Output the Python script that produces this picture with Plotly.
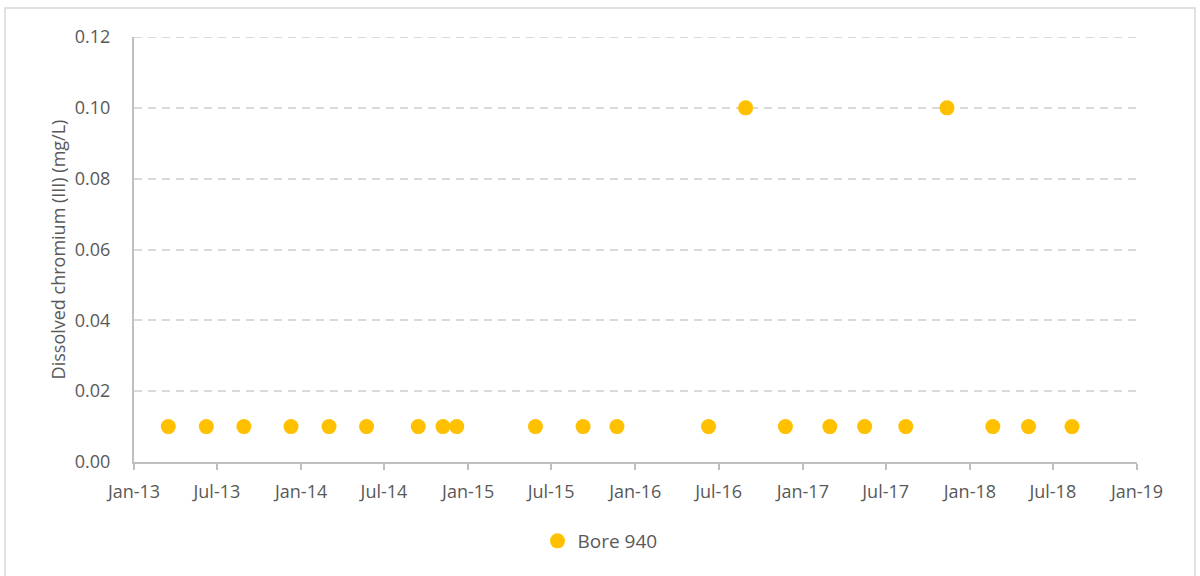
import plotly.graph_objects as go

dates = ["2013-03-17", "2013-06-08", "2013-08-29", "2013-12-10", "2014-03-03", "2014-05-24",
         "2014-09-14", "2014-11-07", "2014-12-07", "2015-05-28", "2015-09-09", "2015-11-22",
         "2016-06-09", "2016-08-29", "2016-11-24", "2017-03-01", "2017-05-16", "2017-08-14",
         "2017-11-12", "2018-02-20", "2018-05-09", "2018-08-12"]
values = [0.01, 0.01, 0.01, 0.01, 0.01, 0.01,
          0.01, 0.01, 0.01, 0.01, 0.01, 0.01,
          0.01, 0.10, 0.01, 0.01, 0.01, 0.01,
          0.10, 0.01, 0.01, 0.01]
series_name = "Bore 940"
y_title = "Dissolved chromium (III) (mg/L)"
y_max = 0.12

FONT = "Open Sans, Liberation Sans, sans-serif"
W, H = 1200, 576
L, R, T, B = 134, 63, 37, 114
PW, PH = W - L - R, H - T - B

fig = go.Figure()
fig.add_trace(go.Scatter(
    x=dates, y=values, mode="markers", name=series_name,
    marker=dict(color="#FFC000", size=15, line=dict(width=0)),
))

fig.update_layout(
    width=W, height=H,
    margin=dict(l=L, r=R, t=T, b=B),
    paper_bgcolor="white", plot_bgcolor="white",
    font=dict(family=FONT, color="#595959", size=17),
    showlegend=True,
    legend=dict(orientation="h", xref="container", yref="container",
                x=0.5, xanchor="center", y=1 - 541 / H, yanchor="middle",
                font=dict(size=19, color="#595959")),
    xaxis=dict(
        type="date", range=["2013-01-01", "2019-01-01"], dtick="M6", tick0="2013-01-01",
        tickformat="%b-%y", showgrid=False, zeroline=False,
        showline=True, linecolor="#bfbfbf", linewidth=2,
        ticks="outside", ticklen=6, tickcolor="#bfbfbf", tickwidth=2,
        ticklabelstandoff=6,
        tickfont=dict(size=18, color="#595959"),
    ),
    yaxis=dict(
        range=[0, y_max], tick0=0, dtick=0.02, tickformat=".2f",
        showgrid=True, gridcolor="#d9d9d9", griddash="8px,6px", gridwidth=2,
        zeroline=False, showline=True, linecolor="#bfbfbf", linewidth=2,
        ticks="", ticklabelstandoff=18, tickfont=dict(size=18, color="#595959"),
        title=dict(text=y_title, font=dict(size=18, color="#595959"), standoff=4),
    ),
    shapes=[
        dict(type="rect", xref="paper", yref="paper",
             x0=(5 - L) / PW, x1=(1195 - L) / PW,
             y0=(T + PH - 580) / PH, y1=(T + PH - 8) / PH,
             line=dict(color="#d9d9d9", width=1.5), fillcolor="rgba(0,0,0,0)", layer="below"),
        dict(type="line", xref="paper", yref="y", x0=0, x1=1, y0=y_max, y1=y_max,
             line=dict(color="#d9d9d9", width=2, dash="8px,6px"), layer="below"),
    ],
)

fig.write_html("out.html", config={"displayModeBar": False},
               post_script="document.body.style.margin='0px';")
